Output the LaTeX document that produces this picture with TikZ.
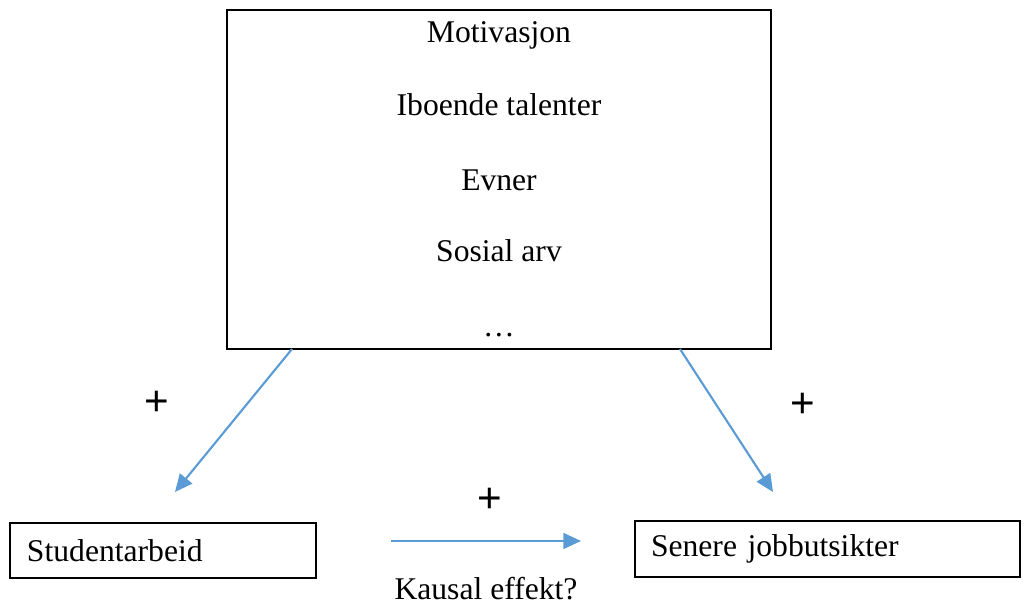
\documentclass[tikz,border=0pt]{standalone}
\usepackage{fontspec}
\setmainfont{Liberation Serif}
\newfontfamily\plusfont{Liberation Sans}
\usetikzlibrary{arrows.meta,positioning}
\definecolor{arrowblue}{RGB}{91,155,213}
\begin{document}
\begin{tikzpicture}[x=0.02cm, y=-0.02cm, font=\fontsize{18}{21}\selectfont,
  box/.style={draw, thick, rectangle, inner sep=0pt},
  line node/.style={anchor=base, inner sep=0pt},
  plus node/.style={font=\plusfont\fontsize{24}{26}\selectfont, inner sep=0pt},
  blue arrow/.style={draw=arrowblue, line width=1.2pt, -{Triangle[length=10pt,width=9pt]}}]
\useasboundingbox (0,0) rectangle (1024,604);
% top box of background factors
\node[box, minimum width=544*0.02cm, minimum height=339*0.02cm] (factors) at (499,179.5) {};
\node[line node] (motiv) at (499,43) {Motivasjon};
\node[line node] (talent) at (499,116) {Iboende talenter};
\node[line node] (evner) at (499,191) {Evner};
\node[line node] (arv) at (499,262) {Sosial arv};
\node[line node] (dots) at (499,337) {\dots};
% outcome boxes
\node[box, minimum width=306*0.02cm, minimum height=55*0.02cm, text width=272*0.02cm, align=left] (student) at (163,550.5) {Studentarbeid};
\node[box, minimum width=385*0.02cm, minimum height=56*0.02cm, text width=353*0.02cm, align=left] (jobb) at (827.5,549) {Senere jobbutsikter};
% arrow ends
\coordinate (left top) at (292,349);
\coordinate (left end) at (175,492);
\coordinate (right top) at (680,349);
\coordinate (right end) at (773,492);
\coordinate (mid start) at (391,541);
\coordinate (mid end) at (581,541);
\draw[blue arrow] (left top) -- (left end);
\draw[blue arrow] (right top) -- (right end);
\draw[blue arrow] (mid start) -- (mid end);
% signs and labels
\node[plus node] (plus left) at (157,403) {+};
\node[plus node] (plus right) at (803,405) {+};
\node[plus node] (plus mid) at (490,500) {+};
\node[line node] (kausal) at (486,599) {Kausal effekt?};
\end{tikzpicture}
\end{document}
